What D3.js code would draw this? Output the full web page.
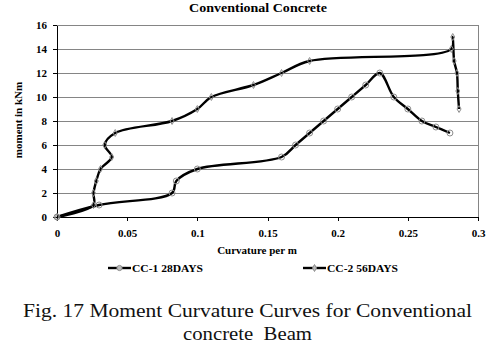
<!DOCTYPE html>
<html>
<head>
<meta charset="utf-8">
<script src="https://cdn.jsdelivr.net/npm/d3@7"></script>
<style>
  html, body { margin: 0; padding: 0; background: #fff; }
  svg { display: block; }
  text { font-family: "Liberation Serif", "Times New Roman", serif; }
</style>
</head>
<body>
<svg id="chart" width="493" height="346"></svg>
<script>
// Moment–curvature readings for the two conventional concrete beams
const seriesNames = ["CC-1 28DAYS", "CC-2 56DAYS"];

const cc1Curvature = [0, 0.03, 0.082, 0.085, 0.1, 0.16, 0.17, 0.18, 0.19, 0.2, 0.21, 0.22, 0.23, 0.24, 0.25, 0.26, 0.27, 0.28];
const cc1Moment    = [0, 1, 2, 3, 4, 5, 6, 7, 8, 9, 10, 11, 12, 10, 9, 8, 7.5, 7];

const cc2Curvature = [0, 0.026, 0.026, 0.028, 0.031, 0.039, 0.034, 0.0415, 0.082, 0.1, 0.11, 0.14, 0.16, 0.18, 0.281, 0.282, 0.283, 0.285, 0.2856, 0.2865];
const cc2Moment    = [0, 1, 2, 3, 4, 5, 6, 7, 8, 9, 10, 11, 12, 13, 14, 15, 13, 12, 10.5, 9];

const xTicks = [0, 0.05, 0.1, 0.15, 0.2, 0.25, 0.3];
const xTickLabels = ["0", "0.05", "0.1", "0.15", "0.2", "0.25", "0.3"];
const yTicks = [0, 2, 4, 6, 8, 10, 12, 14, 16];

const svg = d3.select("#chart");
const plot = { left: 57, right: 478, top: 25, bottom: 217 };

const x = d3.scaleLinear().domain([0, 0.3]).range([plot.left, plot.right]);
const y = d3.scaleLinear().domain([0, 16]).range([plot.bottom, plot.top]);

// Horizontal gridlines
svg.append("g")
  .selectAll("line")
  .data(yTicks.filter(d => d > 0))
  .join("line")
  .attr("x1", plot.left).attr("x2", plot.right)
  .attr("y1", d => y(d)).attr("y2", d => y(d))
  .attr("stroke", "#858585").attr("stroke-width", 1)
  .attr("shape-rendering", "crispEdges");

// Right edge of plot area
svg.append("line")
  .attr("x1", plot.right).attr("x2", plot.right)
  .attr("y1", plot.top).attr("y2", plot.bottom)
  .attr("stroke", "#858585").attr("stroke-width", 1)
  .attr("shape-rendering", "crispEdges");

// Axes
const xAxis = d3.axisBottom(x)
  .tickValues(xTicks)
  .tickFormat((d, i) => xTickLabels[i])
  .tickSize(4).tickPadding(8).tickSizeOuter(0);
const yAxis = d3.axisLeft(y)
  .tickValues(yTicks)
  .tickSize(4).tickPadding(6).tickSizeOuter(0);

const gx = svg.append("g").attr("transform", `translate(0,${plot.bottom})`).call(xAxis);
const gy = svg.append("g").attr("transform", `translate(${plot.left},0)`).call(yAxis);
[gx, gy].forEach(g => {
  g.attr("font-family", null);
  g.selectAll("path, line").attr("stroke", "#000").attr("shape-rendering", "crispEdges");
  g.selectAll("text")
    .attr("fill", "#000")
    .style("font-family", "'Liberation Serif', 'Times New Roman', serif")
    .style("font-size", "11px")
    .style("font-weight", "bold");
});

// Smoothed curves
const line = d3.line()
  .x(d => x(d[0]))
  .y(d => y(d[1]))
  .curve(d3.curveCatmullRom.alpha(0.5));

const cc1 = cc1Curvature.map((c, i) => [c, cc1Moment[i]]);
const cc2 = cc2Curvature.map((c, i) => [c, cc2Moment[i]]);

svg.append("path").datum(cc1).attr("d", line)
  .attr("fill", "none").attr("stroke", "#000").attr("stroke-width", 2.4)
  .attr("stroke-linejoin", "round");
svg.append("path").datum(cc2).attr("d", line)
  .attr("fill", "none").attr("stroke", "#000").attr("stroke-width", 2.4)
  .attr("stroke-linejoin", "round");

// Markers
const diamond = d3.symbol().type(d3.symbolDiamond).size(14);

svg.append("g").selectAll("circle")
  .data(cc1).join("circle")
  .attr("cx", d => x(d[0])).attr("cy", d => y(d[1])).attr("r", 3)
  .attr("fill", "none").attr("stroke", "#8c8c8c").attr("stroke-width", 1);

svg.append("g").selectAll("path")
  .data(cc2).join("path")
  .attr("d", diamond)
  .attr("transform", d => `translate(${x(d[0])},${y(d[1])})`)
  .attr("fill", "none").attr("stroke", "#8c8c8c").attr("stroke-width", 1);

// Title and axis titles
svg.append("text")
  .attr("x", 258).attr("y", 12)
  .attr("text-anchor", "middle")
  .attr("textLength", 138).attr("lengthAdjust", "spacingAndGlyphs")
  .style("font-size", "13px").style("font-weight", "bold")
  .text("Conventional Concrete");

svg.append("text")
  .attr("x", 257).attr("y", 254)
  .attr("text-anchor", "middle")
  .style("font-size", "11px").style("font-weight", "bold")
  .text("Curvature per m");

svg.append("text")
  .attr("transform", "translate(22,120) rotate(-90)")
  .attr("text-anchor", "middle")
  .style("font-size", "11px").style("font-weight", "bold")
  .text("moment in kNm");

// Legend
const legendY = 268;
const legendItems = [
  { name: seriesNames[0], x0: 108, marker: "circle" },
  { name: seriesNames[1], x0: 303, marker: "diamond" }
];
const lg = svg.append("g");
legendItems.forEach(item => {
  const g = lg.append("g");
  g.append("line")
    .attr("x1", item.x0).attr("x2", item.x0 + 23)
    .attr("y1", legendY).attr("y2", legendY)
    .attr("stroke", "#000").attr("stroke-width", 2.4);
  if (item.marker === "circle") {
    g.append("circle")
      .attr("cx", item.x0 + 11.5).attr("cy", legendY).attr("r", 2.6)
      .attr("fill", "#bbb").attr("stroke", "#8c8c8c").attr("stroke-width", 1);
  } else {
    g.append("path")
      .attr("d", diamond)
      .attr("transform", `translate(${item.x0 + 11.5},${legendY})`)
      .attr("fill", "#bbb").attr("stroke", "#8c8c8c").attr("stroke-width", 1);
  }
  g.append("text")
    .attr("x", item.x0 + 24).attr("y", legendY + 3.8)
    .attr("textLength", 71).attr("lengthAdjust", "spacingAndGlyphs")
    .style("font-size", "11px").style("font-weight", "bold")
    .text(item.name);
});

// Figure caption
svg.append("text")
  .attr("x", 23).attr("y", 317)
  .attr("textLength", 449).attr("lengthAdjust", "spacingAndGlyphs")
  .style("font-size", "19px")
  .attr("fill", "#111")
  .text("Fig. 17 Moment Curvature Curves for Conventional");

svg.append("text")
  .attr("x", 183).attr("y", 340)
  .attr("textLength", 129).attr("lengthAdjust", "spacingAndGlyphs")
  .style("font-size", "19px")
  .style("white-space", "pre")
  .attr("fill", "#111")
  .text("concrete  Beam");
</script>
</body>
</html>
